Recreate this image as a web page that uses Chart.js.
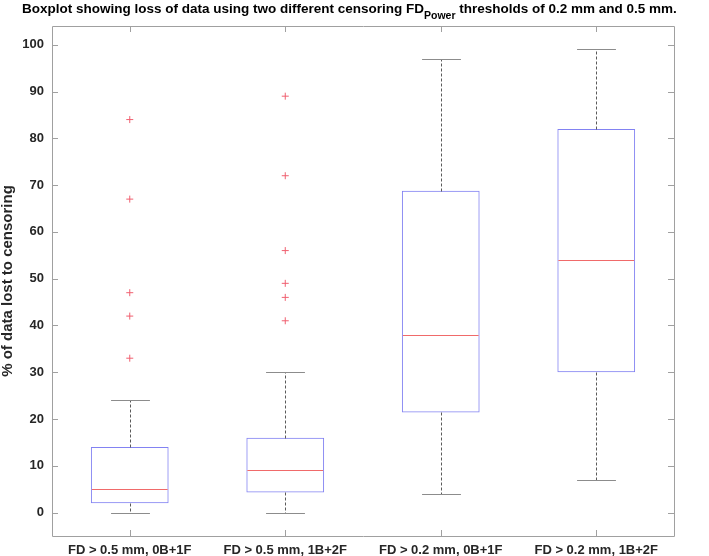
<!DOCTYPE html>
<html>
<head>
<meta charset="utf-8">
<script src="https://cdn.jsdelivr.net/npm/chart.js@4.4.1/dist/chart.umd.min.js"></script>
<style>
  html, body { margin: 0; padding: 0; background: #fff; }
  #wrap { position: relative; width: 709px; height: 556px; }
  #title {
    position: absolute; left: 22px; top: 0px; white-space: nowrap;
    font: bold 13.5px "Liberation Sans", Arial, sans-serif; color: #000; line-height: 17px;
  }
  #title sub { font-size: 10.5px; vertical-align: -6px; line-height: 0; }
</style>
</head>
<body>
<div id="wrap">
  <canvas id="chart" width="709" height="556"></canvas>
  <div id="title">Boxplot showing loss of data using two different censoring FD<sub>Power</sub> thresholds of 0.2 mm and 0.5 mm.</div>
</div>
<script>
const categories = ['FD > 0.5 mm, 0B+1F', 'FD > 0.5 mm, 1B+2F', 'FD > 0.2 mm, 0B+1F', 'FD > 0.2 mm, 1B+2F'];
const lowerWhisker = [0, 0, 4, 7];
const q1 = [2, 4.3, 21.4, 30];
const median = [5, 9, 38, 54];
const q3 = [14, 16, 68.8, 82];
const upperWhisker = [24, 30, 97, 99];
const outliers = [
    [33, 42, 47, 67, 84],
    [41, 46, 49, 56, 72, 89],
    [],
    []
];
const yTicks = [0, 10, 20, 30, 40, 50, 60, 70, 80, 90, 100];

const outlierPoints = [];
outliers.forEach((list, i) => {
    list.forEach(v => outlierPoints.push({ x: categories[i], y: v }));
});

// whiskers, caps, medians and the inward ticks of the box frame
const boxExtras = {
    id: 'boxExtras',
    afterDatasetsDraw(chart) {
        const ctx = chart.ctx;
        const yScale = chart.scales.y;
        const bars = chart.getDatasetMeta(0).data;
        const py = v => Math.round(yScale.getPixelForValue(v)) + 0.5;
        ctx.save();
        ctx.lineWidth = 1;
        bars.forEach((bar, i) => {
            const cx = Math.round(bar.x) + 0.5;
            const capHalf = bar.width / 4;

            ctx.strokeStyle = '#5a5a5a';
            ctx.setLineDash([3, 2]);
            ctx.beginPath();
            ctx.moveTo(cx, py(q3[i]));
            ctx.lineTo(cx, py(upperWhisker[i]));
            ctx.moveTo(cx, py(q1[i]));
            ctx.lineTo(cx, py(lowerWhisker[i]));
            ctx.stroke();

            ctx.setLineDash([]);
            ctx.strokeStyle = '#8c8c8c';
            ctx.beginPath();
            ctx.moveTo(cx - capHalf, py(upperWhisker[i]));
            ctx.lineTo(cx + capHalf, py(upperWhisker[i]));
            ctx.moveTo(cx - capHalf, py(lowerWhisker[i]));
            ctx.lineTo(cx + capHalf, py(lowerWhisker[i]));
            ctx.stroke();
        });
        ctx.setLineDash([]);
        ctx.strokeStyle = '#f06a6a';
        ctx.beginPath();
        bars.forEach((bar, i) => {
            const half = bar.width / 2;
            ctx.moveTo(bar.x - half + 1, py(median[i]));
            ctx.lineTo(bar.x + half - 1, py(median[i]));
        });
        ctx.stroke();
        ctx.restore();
    },
    afterDraw(chart) {
        const ctx = chart.ctx;
        const a = chart.chartArea;
        const xs = chart.scales.x;
        const ys = chart.scales.y;
        const tick = 6;
        ctx.save();
        ctx.strokeStyle = '#a0a0a0';
        ctx.lineWidth = 1;
        ctx.beginPath();
        ctx.rect(Math.round(a.left) + 0.5, Math.round(a.top) + 0.5,
                 Math.round(a.right - a.left), Math.round(a.bottom - a.top));
        ys.ticks.forEach(t => {
            const y = Math.round(ys.getPixelForValue(t.value)) + 0.5;
            ctx.moveTo(a.left, y); ctx.lineTo(a.left + tick, y);
            ctx.moveTo(a.right, y); ctx.lineTo(a.right - tick, y);
        });
        categories.forEach((c, i) => {
            const x = Math.round(xs.getPixelForValue(i)) + 0.5;
            ctx.moveTo(x, a.bottom); ctx.lineTo(x, a.bottom - tick);
            ctx.moveTo(x, a.top); ctx.lineTo(x, a.top + tick);
        });
        ctx.stroke();
        ctx.restore();
    }
};

new Chart(document.getElementById('chart'), {
    type: 'bar',
    data: {
        labels: categories,
        datasets: [
            {
                type: 'bar',
                data: categories.map((c, i) => [q1[i], q3[i]]),
                backgroundColor: 'rgba(0,0,0,0)',
                borderColor: '#8282f2',
                borderWidth: 1,
                borderSkipped: false,
                barPercentage: 0.5,
                categoryPercentage: 1,
                grouped: false
            },
            {
                type: 'line',
                data: outlierPoints,
                showLine: false,
                pointStyle: 'cross',
                pointRadius: 3.5,
                pointBorderWidth: 1,
                pointBorderColor: '#f06070',
                pointBackgroundColor: '#f06070'
            }
        ]
    },
    options: {
        responsive: false,
        animation: false,
        layout: { padding: { top: 26, right: 35, bottom: 0, left: 0 } },
        plugins: {
            legend: { display: false },
            tooltip: { enabled: false }
        },
        scales: {
            x: {
                offset: true,
                grid: { display: false, drawTicks: false },
                border: { display: false },
                ticks: {
                    padding: 7,
                    color: '#262626',
                    maxRotation: 0,
                    font: { family: '"Liberation Sans", Arial, sans-serif', size: 13, weight: 'bold' }
                },
                afterFit(s) { s.height = 20; }
            },
            y: {
                min: -5,
                max: 104,
                afterBuildTicks(axis) { axis.ticks = yTicks.map(v => ({ value: v })); },
                grid: { display: false, drawTicks: false },
                border: { display: false },
                ticks: {
                    padding: 8,
                    color: '#262626',
                    font: { family: '"Liberation Sans", Arial, sans-serif', size: 13, weight: 'bold' }
                },
                title: {
                    display: true,
                    text: '% of data lost to censoring',
                    color: '#262626',
                    padding: 0,
                    font: { family: '"Liberation Sans", Arial, sans-serif', size: 15, weight: 'bold', lineHeight: 1 }
                },
                afterFit(s) { s.width = 52; }
            }
        }
    },
    plugins: [boxExtras]
});
</script>
</body>
</html>
